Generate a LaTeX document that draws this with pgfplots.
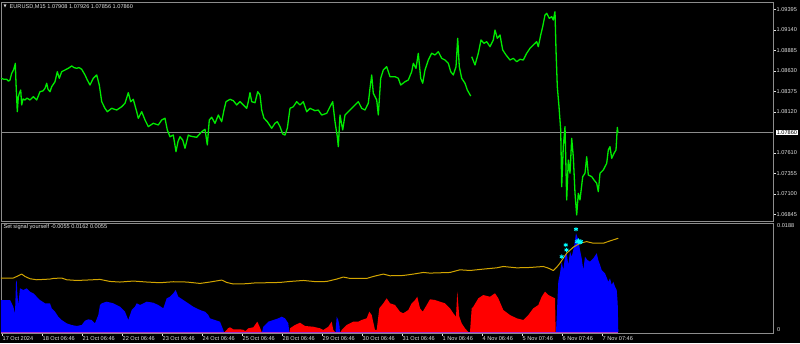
\documentclass[border=0pt]{standalone}
\usepackage{pgfplots}
\pgfplotsset{compat=1.18}
\usepackage{fontspec}
\setmainfont{Liberation Sans}
\newfontfamily\dejavu{DejaVu Sans}
\definecolor{mtgray}{RGB}{140,140,140}
\definecolor{mttext}{RGB}{225,225,225}
\definecolor{mtgreen}{RGB}{0,235,0}
\definecolor{mtgold}{RGB}{210,165,0}
\definecolor{mtcyan}{RGB}{0,255,255}
\definecolor{mtblue}{RGB}{0,0,255}
\definecolor{mtred}{RGB}{255,0,0}
\definecolor{mtmag}{RGB}{170,50,200}
\newcommand\mtfont{\fontsize{5.6}{6.5}\selectfont}
\begin{document}
\begin{tikzpicture}[x=1pt,y=1pt]
\fill[black] (0,0) rectangle (800,343);
% ---------------- price panel ----------------
\begin{axis}[
  at={(1pt,341pt)}, anchor=north west, scale only axis,
  width=772pt, height=219.5pt,
  xmin=1, xmax=773, ymin=1.067552, ymax=1.094858,
  axis line style={mtgray, line width=0.8pt},
  xtick=\empty, scaled y ticks=false,
  ytick={1.09395,1.09140,1.08885,1.08630,1.08375,1.08120,1.07610,1.07355,1.07100,1.06845},
  yticklabels={1.09395,1.09140,1.08885,1.08630,1.08375,1.08120,1.07610,1.07355,1.07100,1.06845},
  ytick pos=right, yticklabel pos=right, tick align=outside, major tick length=3pt,
  tick style={mttext, line width=0.5pt},
  yticklabel style={font=\mtfont, text=mttext, anchor=west, inner sep=0.5pt},
  unbounded coords=jump, clip mode=individual,
]
\addplot[mtgray, line width=0.6pt, forget plot] coordinates {(1,1.07860) (773,1.07860)};
\addplot[mtgreen, line width=1.3pt, line join=round] coordinates {
(1,1.08537) (4,1.08524) (6.7,1.08524) (8.5,1.08500) (10,1.08516) (11.7,1.08599) (13.5,1.08640) (15,1.08702) (15.3,1.08723) (16,1.08478) (17.3,1.08121) (18.3,1.08300) (19.3,1.08350) (20.7,1.08391) (21.7,1.08205) (23,1.08280) (25,1.08267) (27,1.08290) (30,1.08267) (33.3,1.08308) (36.7,1.08267) (40,1.08370) (43,1.08380) (45,1.08412) (46.7,1.08475) (48,1.08400) (50,1.08370) (51.7,1.08432) (55,1.08494) (57.3,1.08619) (59.3,1.08537) (61.7,1.08619) (65,1.08640) (68.3,1.08661) (71.7,1.08690) (74,1.08670) (76.7,1.08661) (79,1.08670) (81.7,1.08649) (85,1.08578) (87.3,1.08516) (90,1.08453) (93.3,1.08537) (96.7,1.08578) (99.3,1.08453) (101.7,1.08246) (105,1.08163) (107.3,1.08121) (111.7,1.08163) (116.7,1.08142) (121.7,1.08183) (125,1.08226) (128.3,1.08358) (130.7,1.08246) (133.3,1.08275) (136.7,1.08121) (138.3,1.08039) (141.7,1.08121) (145,1.08018) (148.3,1.07935) (153.3,1.07977) (158.3,1.07956) (161.7,1.08018) (165,1.08039) (167.3,1.07894) (170,1.07810) (173.3,1.07831) (176,1.07624) (178,1.07750) (180,1.07810) (182.7,1.07769) (185,1.07666) (188.3,1.07831) (190,1.07819) (193.3,1.07810) (196.7,1.07803) (201.7,1.07872) (205,1.07902) (207.3,1.07707) (209.3,1.08018) (211.7,1.08052) (215,1.07977) (218.3,1.08080) (221.7,1.07997) (224,1.08142) (226,1.08246) (230,1.08275) (233.3,1.08258) (236.7,1.08205) (240,1.08246) (243.3,1.08205) (246.7,1.08163) (248.3,1.08246) (250,1.08358) (251.7,1.08246) (255,1.08233) (257.7,1.08370) (260,1.08329) (261.7,1.08142) (264,1.08039) (267.3,1.07997) (271.7,1.07915) (275,1.07977) (277.3,1.07997) (280,1.07935) (282.7,1.07844) (285,1.07831) (287.3,1.07915) (290,1.08163) (293.3,1.08183) (296.7,1.08246) (300,1.08205) (303.3,1.08246) (306.7,1.08121) (310,1.08163) (315,1.08134) (318.3,1.08142) (321.7,1.08080) (326.7,1.08101) (330,1.08183) (332.7,1.08246) (335,1.07997) (337.3,1.07810) (338.3,1.07686) (340,1.08080) (342.7,1.07894) (345,1.08080) (348.3,1.08121) (351.7,1.08163) (355,1.08205) (358.3,1.08246) (361.7,1.08163) (365,1.08142) (368.3,1.08226) (370,1.08412) (371.7,1.08578) (373.3,1.08350) (376.7,1.08267) (378.3,1.08080) (380.7,1.08537) (383.3,1.08640) (386.7,1.08681) (390,1.08557) (395,1.08557) (398.3,1.08537) (400.7,1.08453) (405,1.08494) (408.3,1.08516) (411.7,1.08619) (413.3,1.08723) (416,1.08661) (418.3,1.08848) (420.7,1.08537) (422.7,1.08475) (425,1.08640) (428.3,1.08764) (431.7,1.08848) (435,1.08827) (438.3,1.08868) (441.7,1.08785) (445,1.08764) (448.3,1.08723) (450.7,1.08619) (453.3,1.08578) (456,1.08681) (457.7,1.09034) (459.3,1.08681) (461.7,1.08537) (465,1.08475) (467.3,1.08391) (470.7,1.08316) (471.2,nan) (471.7,1.08805) (475,1.08702) (478.3,1.08848) (481,1.09013) (484,1.08972) (486.7,1.08992) (490,1.08930) (493.3,1.09013) (495,1.09137) (497.3,1.09034) (500,1.09075) (502.7,1.08889) (506,1.08827) (510,1.08764) (513.3,1.08785) (516.7,1.08743) (520,1.08773) (523.3,1.08764) (526.7,1.08848) (530,1.08910) (533.3,1.08951) (536.7,1.08992) (538.3,1.08930) (540.7,1.09075) (542.7,1.09179) (545,1.09324) (546.7,1.09345) (549.3,1.09283) (551.7,1.09303) (553.3,1.09262) (555,1.09365) (556,1.08889) (557.3,1.08432) (559,1.08183) (560.7,1.07894) (561.7,1.07188) (563.3,1.07686) (565,1.07935) (566.7,1.07023) (568.3,1.07520) (570,1.07355) (571.7,1.07790) (573.3,1.07561) (575,1.07106) (576.7,1.06836) (578.3,1.07106) (580,1.07023) (582.7,1.07313) (585,1.07355) (586.7,1.07561) (588.3,1.07334) (591.7,1.07313) (594,1.07272) (596.7,1.07230) (598.3,1.07126) (600,1.07355) (603.3,1.07396) (606.7,1.07479) (608.3,1.07645) (610,1.07686) (611.7,1.07541) (614,1.07604) (616,1.07645) (617.3,1.07926) (618,1.07860)
};
\node[anchor=west, fill=white, text=black, inner sep=0.6pt, font=\mtfont, xshift=3pt] at (axis cs:773,1.07860) {1.07860};
\node[anchor=west, text=mttext, inner sep=0pt, font={\dejavu\fontsize{4}{5}\selectfont}] at (rel axis cs:0.003,0.979) {▼};
\node[anchor=west, text=mttext, inner sep=0pt, font=\mtfont] at (rel axis cs:0.011,0.979) {EURUSD,M15 1.07908 1.07926 1.07856 1.07860};
\end{axis}
% ---------------- indicator panel ----------------
\begin{axis}[
  at={(1pt,120pt)}, anchor=north west, scale only axis,
  width=772pt, height=110pt,
  xmin=1, xmax=773, ymin=-0.00017, ymax=0.0188,
  axis line style={mtgray, line width=0.8pt},
  scaled y ticks=false, scaled x ticks=false,
  xtick={2,42,82,122,162,202,242,282,322,362,402,442,482,522,562,602},
  xticklabels={17 Oct 2024,18 Oct 06:46,21 Oct 06:46,22 Oct 06:46,23 Oct 06:46,24 Oct 06:46,25 Oct 06:46,28 Oct 06:46,29 Oct 06:46,30 Oct 06:46,31 Oct 06:46,1 Nov 06:46,4 Nov 06:46,5 Nov 07:46,6 Nov 07:46,7 Nov 07:46},
  xtick pos=bottom, tick align=outside, major tick length=2.5pt,
  xtick style={mttext, line width=0.5pt},
  xticklabel style={font=\mtfont, text=mttext, anchor=north west, inner sep=0.5pt},
  ytick={0}, yticklabels={0},
  extra y ticks={0.0188}, extra y tick labels={0.0188},
  extra y tick style={yticklabel style={anchor=north west}},
  ytick pos=right, yticklabel pos=right,
  ytick style={draw=none},
  yticklabel style={font=\mtfont, text=mttext, anchor=south west, inner sep=0.5pt, xshift=1pt},
  clip mode=individual,
]
% blue histogram segments
\addplot[fill=mtblue, draw=none] coordinates {
(1,0) (1,0.00552) (10,0.00552) (11.7,0.00495) (13.3,0.00436) (15,0.00323) (16,0.00840) (16.7,0.00897) (17.3,0.00668) (18.3,0.00466) (20,0.00754) (23.3,0.00725) (26.7,0.00754) (30,0.00695) (33.3,0.00668) (36.7,0.00609) (40,0.00552) (45,0.00495) (50,0.00495) (51.7,0.00409) (55,0.00350) (58.3,0.00264) (61.7,0.00207) (66.7,0.00150) (71.7,0.00121) (76.7,0.00104) (81.7,0.00121) (85,0.00195) (88.3,0.00219) (91.7,0.00207) (95,0.00150) (98.3,0.00293) (100,0.00466) (101.7,0.00495) (106.7,0.00523) (113.3,0.00495) (120,0.00436) (125,0.00350) (128.3,0.00207) (131.7,0.00380) (135,0.00436) (136.7,0.00495) (140,0.00466) (146.7,0.00523) (153.3,0.00505) (158.3,0.00466) (163.3,0.00409) (166.7,0.00581) (170,0.00609) (173.3,0.00668) (175.7,0.00725) (178.3,0.00609) (183.3,0.00552) (188.3,0.00495) (193.3,0.00436) (200,0.00380) (205,0.00350) (208.3,0.00293) (210,0.00236) (215,0.00207) (220,0.00178) (223.3,0.00035) (224,0)
} \closedcycle;
\addplot[fill=mtred, draw=none] coordinates {
(224.5,0) (226.7,0.00035) (228,0.00064) (230,0.00081) (233.3,0.00047) (240,0.00047) (244,0.00035) (245,0.00010) (248.3,0.00064) (253.3,0.00081) (257.3,0.00178) (259.3,0.00104) (261.7,0)
} \closedcycle;
\addplot[fill=mtblue, draw=none] coordinates {
(262,0) (263.3,0.00091) (268.3,0.00178) (273.3,0.00207) (278.3,0.00236) (281.7,0.00264) (285,0.00236) (288.3,0.00150) (289.3,0)
} \closedcycle;
\addplot[fill=mtred, draw=none] coordinates {
(289.5,0) (290,0.00064) (295,0.00121) (300,0.00160) (305,0.00104) (313.3,0.00091) (320,0.00064) (323.3,0.00035) (328.3,0.00091) (331.7,0.00178) (333.3,0.00035) (335,0)
} \closedcycle;
\addplot[fill=mtblue, draw=none] coordinates {
(335.5,0) (336.7,0.00264) (338.3,0.00207) (339.5,0.00100) (340,0)
} \closedcycle;
\addplot[fill=mtred, draw=none] coordinates {
(340.5,0) (341.7,0.00035) (346.7,0.00121) (353.3,0.00178) (358.3,0.00178) (361.7,0.00207) (366.7,0.00236) (369.3,0.00350) (371.7,0.00293) (375,0.00035) (376.7,0.00035) (379.3,0.00409) (383.3,0.00495) (386.7,0.00581) (390,0.00495) (395,0.00466) (400,0.00350) (403.3,0.00323) (408.3,0.00380) (411.7,0.00495) (415,0.00552) (417.3,0.00609) (420,0.00409) (422.7,0.00350) (426.7,0.00466) (430,0.00564) (435,0.00552) (440,0.00523) (445,0.00495) (450,0.00409) (453.3,0.00323) (456,0.00264) (457.3,0.00695) (459.3,0.00264) (461.7,0.00150) (465,0.00064) (468.3,0) (470,0) (471.7,0.00409) (473.3,0.00436) (478.3,0.00581) (483.3,0.00638) (490,0.00609) (495,0.00668) (498.3,0.00581) (503.3,0.00380) (510,0.00293) (516.7,0.00236) (523.3,0.00207) (528.3,0.00293) (533.3,0.00409) (538.3,0.00466) (541.7,0.00609) (545,0.00695) (548.3,0.00638) (551.7,0.00609) (555,0.00581) (555.7,0)
} \closedcycle;
\addplot[fill=mtblue, draw=none] coordinates {
(556,0) (558.3,0.00868) (560,0.01013) (561.7,0.01213) (563.3,0.01070) (565,0.01299) (566.7,0.01358) (568.3,0.01156) (570,0.01385) (571.7,0.01299) (574,0.01471) (576,0.01703) (578.3,0.01587) (580,0.01415) (581.7,0.01271) (583.3,0.01070) (585,0.01299) (587.3,0.01242) (590,0.01213) (593.3,0.01271) (596.7,0.01358) (598.3,0.01242) (601.7,0.01070) (605,0.01013) (608.3,0.00868) (610,0.00926) (611.7,0.00811) (613.3,0.00868) (615,0.00781) (616.7,0.00725) (617.7,0.00495) (618.3,0)
} \closedcycle;
\addplot[mtmag, line width=0.8pt] coordinates {(1,0) (618.3,0)};
% yellow line
\addplot[mtgold, line width=1pt, line join=round] coordinates {
(1,0.00931) (13.3,0.00931) (18.3,0.00970) (21.7,0.00999) (25,0.00958) (30,0.00919) (36.7,0.00901) (50,0.00913) (53.3,0.00924) (61.7,0.00931) (66.7,0.00901) (76.7,0.00889) (86.7,0.00896) (100,0.00907) (110,0.00872) (120,0.00862) (133.3,0.00879) (146.7,0.00862) (160,0.00850) (173.3,0.00867) (186.7,0.00862) (200,0.00838) (210,0.00862) (221.7,0.00896) (226.7,0.00855) (233.3,0.00828) (246.7,0.00833) (253.3,0.00845) (266.7,0.00850) (280,0.00855) (290,0.00872) (303.3,0.00889) (316.7,0.00867) (326.7,0.00872) (336.7,0.00913) (343.3,0.00948) (350,0.00924) (366.7,0.00924) (373.3,0.00958) (383.3,0.00999) (390,0.00970) (403.3,0.00975) (413.3,0.00999) (423.3,0.01027) (430,0.01016) (450,0.01027) (460,0.01073) (470,0.01061) (483.3,0.01085) (496.7,0.01107) (503.3,0.01130) (516.7,0.01107) (530,0.01113) (543.3,0.01130) (548.3,0.01102) (553.3,0.01061) (557.3,0.01130) (560,0.01188) (566.7,0.01360) (573.3,0.01463) (580,0.01531) (586.7,0.01559) (593.3,0.01531) (603.3,0.01531) (610,0.01571) (618.3,0.01617)
};
% cyan signal marks
\addplot[only marks, mark=asterisk, mark size=2.2pt, mtcyan, line width=0.9pt] coordinates {
(561.7,0.01299) (565.7,0.01501) (566.5,0.01415) (576,0.01772) (577,0.01558) (578.5,0.01575) (580,0.01545) (581,0.01560)
};
\node[anchor=north west, text=mttext, inner sep=0pt, font=\mtfont] at (rel axis cs:0.003,0.985) {Set signal yourself -0.0055 0.0162 0.0055};
\end{axis}
\end{tikzpicture}
\end{document}
